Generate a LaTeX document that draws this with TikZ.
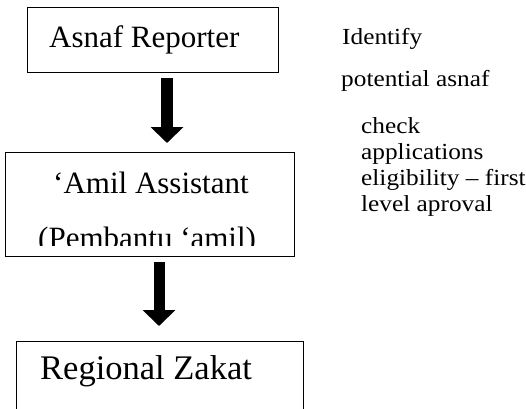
\documentclass[tikz,border=0pt]{standalone}
\usepackage{fontspec}
\setmainfont{Liberation Serif}
\newfontfamily\wide[FakeStretch=1.1]{Liberation Serif}
\usetikzlibrary{arrows.meta}
\tikzset{
  box/.style={draw, line width=1.3pt, rectangle, inner sep=0pt},
  boxtext/.style={anchor=base west, inner sep=0pt, font=\fontsize{31}{37}\selectfont},
  note/.style={anchor=base west, inner sep=0pt, font=\wide\fontsize{23}{27}\selectfont},
  blockarrow/.style={line width=#1, line cap=butt, -{Triangle[width=32pt,length=16pt]}}
}
\begin{document}
\begin{tikzpicture}[x=1pt,y=-1pt]
\useasboundingbox (0,0) rectangle (526,408);
% box 1
\node[box, minimum width=251pt, minimum height=65pt, anchor=north west] (b1) at (27,7) {};
\node[boxtext] (t1) at (49,47) {Asnaf Reporter};
% box 2
\node[box, minimum width=289pt, minimum height=104pt, anchor=north west] (b2) at (5,152) {};
\node[boxtext] (t2) at (53,193) {‘Amil Assistant};
\begin{scope}
\clip (5,152) rectangle (294,245);
\node[boxtext] (t3) at (38,248) {(Pembantu ‘amil)};
\end{scope}
% box 3
\node[box, minimum width=287pt, minimum height=90pt, anchor=north west] (b3) at (16,341) {};
\node[boxtext, font=\fontsize{34.5}{40}\selectfont] (t4) at (40,379) {Regional Zakat};
% arrows
\coordinate (a1s) at (167,78);
\coordinate (a1e) at (167,143);
\coordinate (a2s) at (159,262);
\coordinate (a2e) at (159,326);
\draw[blockarrow=12pt] (a1s) -- (a1e);
\draw[blockarrow=11pt] (a2s) -- (a2e);
% notes
\node[note] (n1) at (342,44) {Identify};
\node[note] (n2) at (341,86) {potential asnaf};
\node[note] (n3) at (361,133) {check};
\node[note] (n4) at (361,159) {applications};
\node[note] (n5) at (361,185) {eligibility – first};
\node[note] (n6) at (361,211) {level aproval};
\end{tikzpicture}
\end{document}
